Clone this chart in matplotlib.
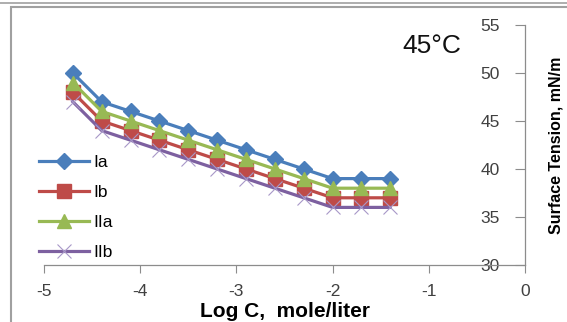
import matplotlib
matplotlib.use("Agg")
import matplotlib.pyplot as plt
from matplotlib.patches import Rectangle

plt.rcParams['font.family'] = ['Liberation Sans', 'DejaVu Sans']
plt.rcParams['axes.unicode_minus'] = False

log_c = [-4.7, -4.4, -4.1, -3.8, -3.5, -3.2, -2.9, -2.6, -2.3, -2.0, -1.7, -1.4]
ia = [50, 47, 46, 45, 44, 43, 42, 41, 40, 39, 39, 39]
ib = [48, 45, 44, 43, 42, 41, 40, 39, 38, 37, 37, 37]
iia = [49, 46, 45, 44, 43, 42, 41, 40, 39, 38, 38, 38]
iib = [47, 44, 43, 42, 41, 40, 39, 38, 37, 36, 36, 36]
x_ticks = [-5, -4, -3, -2, -1, 0]
y_ticks = [30, 35, 40, 45, 50, 55]

fig = plt.figure(figsize=(5.67, 3.22), dpi=100)
fig.patches.append(Rectangle((0, 1 - 3/322), 1, 0.001, transform=fig.transFigure,
                             facecolor='#a0a0a0', edgecolor='#a0a0a0', lw=1.2))
fig.patches.append(Rectangle((11/567, -0.05), 1.2, 1 - 7/322 + 0.05, transform=fig.transFigure,
                             facecolor='none', edgecolor='#a0a0a0', lw=1.5))

ax = fig.add_axes([44/567, 1 - 265/322, (525 - 44)/567, (265 - 25)/322])
ax.set_xlim(-5, 0)
ax.set_ylim(30, 55)

ax.plot(log_c, ia, color='#4A7EBB', lw=2.3, marker='D', ms=8, label='Ia', clip_on=False)
ax.plot(log_c, ib, color='#BE4B48', lw=2.3, marker='s', ms=10, label='Ib', clip_on=False)
ax.plot(log_c, iia, color='#98B954', lw=2.3, marker='^', ms=10, label='IIa', clip_on=False)
ax.plot(log_c, iib, color='#7D60A0', lw=2.3, marker='x', ms=10, mew=0.8,
        mec='#A898C8', label='IIb', clip_on=False)

for s in ['top', 'left']:
    ax.spines[s].set_visible(False)
for s in ['bottom', 'right']:
    ax.spines[s].set_color('#8c8c8c')
    ax.spines[s].set_linewidth(0.9)

ax.set_xticks(x_ticks)
ax.set_yticks(y_ticks)
ax.yaxis.tick_right()
ax.tick_params(axis='y', direction='in', length=7, color='#8c8c8c', labelsize=12.5,
               labelcolor='#404040', pad=-32)
ax.tick_params(axis='x', direction='out', length=6, color='#8c8c8c', labelsize=12.5,
               labelcolor='#404040', pad=8)
for lbl in ax.get_yticklabels():
    lbl.set_horizontalalignment('left')

ax.set_xlabel('Log C,  mole/liter', fontsize=15, fontweight='bold', labelpad=2)
ax.yaxis.set_label_position('right')
ax.set_ylabel('Surface Tension, mN/m', fontsize=11.5, fontweight='bold', labelpad=17)

fig.text(432/567, 1 - 46/322, '45°C', fontsize=19, ha='center', va='center', color='#111111')

leg = ax.legend(loc='lower left', bbox_to_anchor=(-0.0104, 0.02), frameon=False,
                fontsize=12.5, handlelength=2.9, labelspacing=0.85, handletextpad=0.25,
                borderaxespad=0, borderpad=0)

fig.savefig('out.png', dpi=100)
